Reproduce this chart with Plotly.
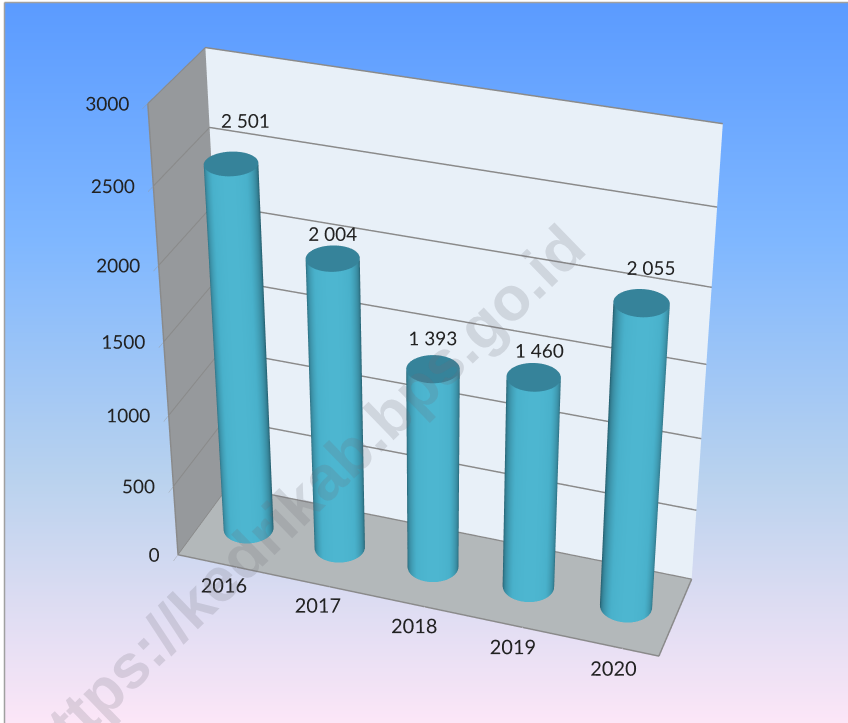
import numpy as np
import plotly.graph_objects as go

years = ["2016", "2017", "2018", "2019", "2020"]
values = [2501, 2004, 1393, 1460, 2055]
labels = ["2 501", "2 004", "1 393", "1 460", "2 055"]
z_ticks = [0, 500, 1000, 1500, 2000, 2500, 3000]
watermark = "https://kedrikab.bps.go.id"
label_dz = [120, -10, 31, 10, 65]
label_dx = [0.15, 0, 0, 0.06, 0.08]

EYE = (1.5, -4.34, 2.8)
AX, AY, AZ = 1.16, 0.30, 1.165
R = 0.255
RY = R * (AX / 5) / AY
YC = 0.5
FONT = "Lato, Open Sans, sans-serif"
TEXT = dict(family=FONT, size=19, color="#222222")

# oversized canvas: a narrower field of view for the 3D scene, centred on the window
PW, PH = 848, 723
W, H = 2374, 2024
OX, OY = 754, 659
def px(x):
    return (x + OX) / W
def py(y):
    return 1 - (y + OY) / H

fig = go.Figure()
fig.add_trace(go.Heatmap(
    z=[[1, 1], [0, 0]], x=[0, 1], y=[0, 1], zsmooth="best", showscale=False, hoverinfo="skip",
    colorscale=[[0, "#5b9bff"], [0.33, "#7fb7ff"], [0.66, "#b9d2ee"], [0.83, "#dcdcf2"], [1, "#fce6f7"]],
    zmin=0, zmax=1,
))

theta = np.linspace(0, 2 * np.pi, 145)
light = np.array([EYE[0], EYE[1]])
light = light / np.linalg.norm(light)
shade = np.clip(np.cos(theta) * light[0] + np.sin(theta) * light[1], 0, 1) ** 0.9
side_scale = [[0, "#1f5564"], [0.4, "#37869b"], [0.8, "#49b1cb"], [1, "#4db6d0"]]
flat = dict(ambient=1, diffuse=0, specular=0, roughness=1, fresnel=0)
for i, v in enumerate(values):
    X = np.array([i + R * np.cos(theta)] * 2)
    Y = np.array([YC + RY * np.sin(theta)] * 2)
    Z = np.array([np.zeros_like(theta), np.full_like(theta, v)])
    fig.add_trace(go.Surface(
        x=X, y=Y, z=Z, surfacecolor=np.array([shade, shade]), colorscale=side_scale, cmin=0, cmax=1,
        showscale=False, hoverinfo="skip", lighting=flat,
    ))
    rr = np.array([0, 1.0])
    XC = i + R * np.outer(rr, np.cos(theta))
    YCAP = YC + RY * np.outer(rr, np.sin(theta))
    ZC = np.full_like(XC, v)
    fig.add_trace(go.Surface(
        x=XC, y=YCAP, z=ZC, surfacecolor=np.zeros_like(XC), colorscale=[[0, "#36839a"], [1, "#36839a"]],
        showscale=False, hoverinfo="skip", lighting=flat,
    ))

fig.add_trace(go.Scatter3d(
    x=[i + d for i, d in enumerate(label_dx)], y=[YC] * 5, z=[v + d for v, d in zip(values, label_dz)],
    mode="text", text=labels, textposition="top center", textfont=TEXT, hoverinfo="skip",
))

# value-axis text on the front edge of the left wall
fig.add_trace(go.Scatter3d(
    x=[-0.5] * len(z_ticks), y=[0] * len(z_ticks), z=z_ticks, mode="text",
    text=[str(t) + "\u00a0\u00a0\u00a0\u00a0" for t in z_ticks],
    textposition="middle left", textfont=TEXT, hoverinfo="skip",
))

axis_common = dict(showspikes=False, zeroline=False, title=dict(text=""))
fig.update_layout(
    width=W, height=H,
    margin=dict(l=0, r=0, t=0, b=0),
    paper_bgcolor="white",
    showlegend=False,
    xaxis=dict(domain=[px(5), px(PW)], range=[0, 1], visible=False, fixedrange=True),
    yaxis=dict(domain=[py(PH), py(3)], range=[0, 1], visible=False, fixedrange=True),
    scene=dict(
        domain=dict(x=[0, 1], y=[0, 1]),
        bgcolor="rgba(0,0,0,0)",
        aspectmode="manual",
        aspectratio=dict(x=AX, y=AY, z=AZ),
        camera=dict(eye=dict(x=EYE[0], y=EYE[1], z=EYE[2]), center=dict(x=0, y=0, z=0), up=dict(x=0, y=0, z=1)),
        xaxis=dict(range=[-0.5, 4.5], tickvals=[i + 0.14 for i in range(5)], ticktext=years, showgrid=False,
                   showbackground=True, backgroundcolor="#96999c", showline=True, linecolor="#8a8a8a", linewidth=3,
                   ticks="outside", ticklen=50, tickcolor="rgba(0,0,0,0)", tickangle=0,
                   tickfont=dict(family=FONT, size=15.5, color="#222222"),
                   **axis_common),
        yaxis=dict(range=[0, 1], showgrid=False, showticklabels=False, ticks="",
                   showbackground=True, backgroundcolor="#e8f0f8", showline=True, linecolor="#8a8a8a", linewidth=3,
                   **axis_common),
        zaxis=dict(range=[0, 3000], tickvals=z_ticks, showgrid=True, gridcolor="#8a8a8a", gridwidth=3,
                   showticklabels=False, ticks="outside", ticklen=10, tickcolor="#999999",
                   showbackground=True, backgroundcolor="#b3b8ba", showline=True, linecolor="#8a8a8a", linewidth=3,
                   **axis_common),
    ),
    annotations=[dict(
        text="<b>" + watermark + "</b>", xref="paper", yref="paper", x=px(302), y=py(498),
        xanchor="center", yanchor="middle",
        showarrow=False, textangle=-44, font=dict(family="Liberation Sans", size=62, color="rgba(110,110,120,0.2)"),
    )],
    shapes=[
        dict(type="line", xref="paper", yref="paper", x0=px(4.5), x1=px(4.5), y0=py(PH), y1=py(2.5),
             line=dict(color="#a0a0a0", width=1.5)),
        dict(type="line", xref="paper", yref="paper", x0=px(4.5), x1=px(PW), y0=py(2.5), y1=py(2.5),
             line=dict(color="#a0a0a0", width=1.5)),
    ],
)
post = ("document.body.style.margin='0';document.documentElement.style.overflow='hidden';"
        "document.body.style.overflow='hidden';"
        "var g=document.getElementById('{plot_id}');g.style.position='absolute';"
        "g.style.left='-%dpx';g.style.top='-%dpx';" % (OX, OY))
fig.write_html("out.html", config=dict(displayModeBar=False), post_script=post)
